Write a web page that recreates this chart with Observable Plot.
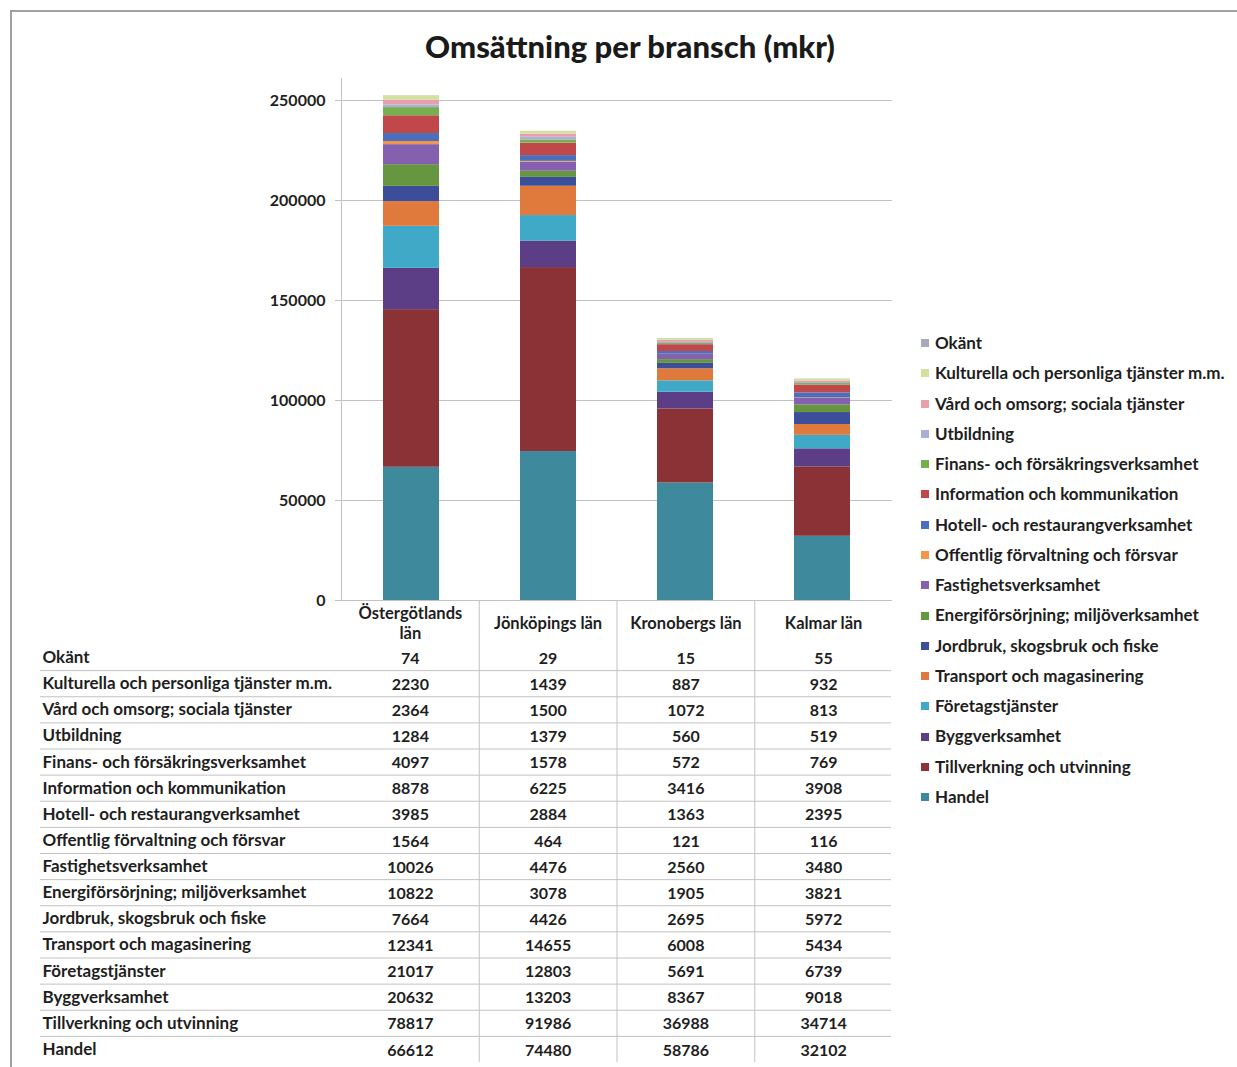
<!DOCTYPE html>
<html><head><meta charset="utf-8">
<script src="https://cdn.jsdelivr.net/npm/d3@7"></script>
<script src="https://cdn.jsdelivr.net/npm/@observablehq/plot@0.6"></script>
<style>
body{margin:0;background:#fff;}
#root{position:relative;width:1237px;height:1067px;overflow:hidden;font-family:Lato,"Open Sans",sans-serif;font-weight:700;color:#1e1e1e;background:#fff;}
#border{position:absolute;left:10px;top:10px;right:-4px;bottom:-4px;border-top:2px solid #a0a0a0;border-left:2px solid #a0a0a0;}
#title{position:absolute;left:630px;top:28px;transform:translateX(-50%);font-size:31px;line-height:36px;font-weight:900;white-space:nowrap;color:#1a1a1a;}
#chart{position:absolute;left:0;top:0;}
#table{position:absolute;left:0;top:600px;}
#legend{position:absolute;left:921px;top:328px;font-size:17px;}
#legend .item{height:30.27px;line-height:30.27px;display:flex;align-items:center;white-space:nowrap;}
#legend .sw{width:8px;height:8px;margin-right:6px;flex:none;}
</style></head><body>
<div id="root"><div id="border"></div><div id="title">Omsättning per bransch (mkr)</div><div id="chart"></div><div id="table"></div><div id="legend"></div></div>
<script>
const regions = ["Östergötlands län", "Jönköpings län", "Kronobergs län", "Kalmar län"];
const regionLabels = ["Östergötlands\nlän", "Jönköpings län", "Kronobergs län", "Kalmar län"];
const industries = [
  "Okänt",
  "Kulturella och personliga tjänster m.m.",
  "Vård och omsorg; sociala tjänster",
  "Utbildning",
  "Finans- och försäkringsverksamhet",
  "Information och kommunikation",
  "Hotell- och restaurangverksamhet",
  "Offentlig förvaltning och försvar",
  "Fastighetsverksamhet",
  "Energiförsörjning; miljöverksamhet",
  "Jordbruk, skogsbruk och fiske",
  "Transport och magasinering",
  "Företagstjänster",
  "Byggverksamhet",
  "Tillverkning och utvinning",
  "Handel"
];
const ostergotland = [74, 2230, 2364, 1284, 4097, 8878, 3985, 1564, 10026, 10822, 7664, 12341, 21017, 20632, 78817, 66612];
const jonkoping    = [29, 1439, 1500, 1379, 1578, 6225, 2884, 464, 4476, 3078, 4426, 14655, 12803, 13203, 91986, 74480];
const kronoberg    = [15, 887, 1072, 560, 572, 3416, 1363, 121, 2560, 1905, 2695, 6008, 5691, 8367, 36988, 58786];
const kalmar       = [55, 932, 813, 519, 769, 3908, 2395, 116, 3480, 3821, 5972, 5434, 6739, 9018, 34714, 32102];
const colors = [
  "#a9a9bd", "#d3e0a0", "#e8a0ad", "#a9b0d8", "#76b04e", "#c0474a", "#4a70bd", "#f4964a",
  "#8560ae", "#66963f", "#3c4e99", "#e07a3c", "#41a9c8", "#5c3e86", "#8b3237", "#3e899c"
];
const yTicks = [0, 50000, 100000, 150000, 200000, 250000];

const series = [ostergotland, jonkoping, kronoberg, kalmar];
const stackOrder = industries.slice().reverse(); // bottom-up
const rows = [];
stackOrder.forEach(ind => {
  const i = industries.indexOf(ind);
  regions.forEach((r, j) => rows.push({industry: ind, region: r, value: series[j][i], row: i, col: j}));
});

const font = {fontFamily: "Lato, 'Open Sans', sans-serif", fontSize: "16px", fontWeight: "700", color: "#1e1e1e", background: "transparent", overflow: "visible"};

const chart = Plot.plot({
  width: 900, height: 602,
  marginLeft: 341, marginRight: 8, marginTop: 78, marginBottom: 2,
  style: font,
  x: {domain: regions, paddingInner: 0.59, paddingOuter: 0.295, axis: null},
  y: {domain: [0, 261000], axis: null, label: null},
  color: {domain: industries, range: colors},
  marks: [
    Plot.gridY(yTicks, {stroke: "#c2c2c2", strokeOpacity: 1}),
    Plot.frame({anchor: "left", stroke: "#c2c2c2"}),
    Plot.axisY(yTicks, {tickSize: 6, tickPadding: 10, tickFormat: d => String(d), stroke: "#c2c2c2", label: null}),
    Plot.barY(rows, {x: "region", y: "value", fill: "industry", z: "industry", order: stackOrder})
  ]
});
document.getElementById("chart").appendChild(chart);

const table = Plot.plot({
  width: 900, height: 467,
  marginLeft: 40, marginRight: 9, marginTop: 0, marginBottom: 5,
  style: font,
  x: {type: "linear", domain: [-0.5, regions.length - 0.5], range: [341, 892], axis: null},
  y: {type: "linear", domain: [-0.5, industries.length - 0.5], range: [44, 462], axis: null},
  marks: [
    Plot.ruleY(industries.slice(1), {y: (d, i) => i + 0.5, stroke: "#c2c2c2", strokeOpacity: 1}),
    Plot.ruleX(regions.slice(1), {x: (d, i) => i + 0.5, stroke: "#c2c2c2", strokeOpacity: 1}),
    Plot.text(regionLabels, {x: (d, i) => i, frameAnchor: "top", dy: 22, lineAnchor: "middle", lineHeight: 1.25, fontSize: 16.5, text: d => d, fill: "#1e1e1e"}),
    Plot.text(industries, {y: (d, i) => i, frameAnchor: "left", textAnchor: "start", dx: 2, fontSize: 17, text: d => d, fill: "#1e1e1e"}),
    Plot.text(rows, {x: "col", y: "row", dy: 1, text: d => String(d.value), fill: "#1e1e1e"})
  ]
});
document.getElementById("table").appendChild(table);

const legend = document.getElementById("legend");
industries.forEach((ind, i) => {
  const item = document.createElement("div");
  item.className = "item";
  const sw = document.createElement("span");
  sw.className = "sw";
  sw.style.background = colors[i];
  const t = document.createElement("span");
  t.textContent = ind;
  item.appendChild(sw); item.appendChild(t);
  legend.appendChild(item);
});
</script>
</body></html>
